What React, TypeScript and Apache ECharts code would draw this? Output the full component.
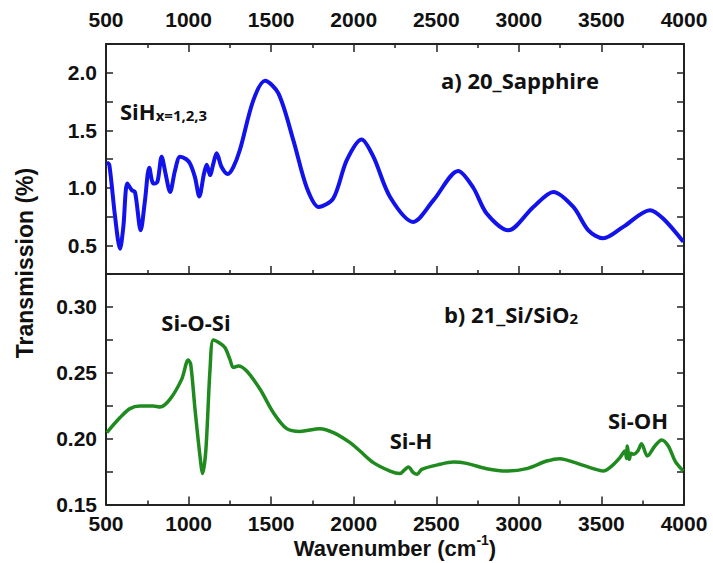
import React, { useEffect, useRef } from "react";
import * as echarts from "echarts";

const xTicks = [500, 1000, 1500, 2000, 2500, 3000, 3500, 4000];

const sapphireX = [505, 520, 555, 585, 605, 629, 656, 676, 710, 736, 762, 787, 811, 837, 861, 888, 918, 948, 984, 1009, 1039, 1065, 1093, 1110, 1130, 1150, 1170, 1200, 1237, 1271, 1311, 1392, 1463, 1544, 1635, 1716, 1788, 1876, 1958, 2048, 2119, 2220, 2361, 2482, 2633, 2724, 2805, 2936, 3088, 3209, 3330, 3421, 3511, 3632, 3794, 3875, 3996];
const sapphireY = [1.22, 1.2, 0.747, 0.47, 0.66, 1.036, 0.98, 0.96, 0.63, 0.89, 1.175, 1.036, 1.05, 1.27, 1.12, 0.964, 1.15, 1.27, 1.25, 1.21, 1.09, 0.925, 1.12, 1.2, 1.11, 1.21, 1.3, 1.18, 1.12, 1.18, 1.33, 1.76, 1.93, 1.82, 1.41, 1.0, 0.833, 0.906, 1.24, 1.42, 1.27, 0.92, 0.703, 0.89, 1.146, 1.0, 0.776, 0.63, 0.833, 0.964, 0.833, 0.63, 0.56, 0.66, 0.805, 0.73, 0.53];

const siX = [505, 585, 645, 706, 786, 827, 888, 958, 998, 1013, 1039, 1069, 1085, 1105, 1130, 1150, 1190, 1221, 1251, 1271, 1301, 1352, 1433, 1513, 1594, 1675, 1796, 1877, 1978, 2038, 2119, 2220, 2280, 2311, 2331, 2361, 2385, 2412, 2522, 2603, 2684, 2805, 2926, 3047, 3169, 3249, 3330, 3451, 3511, 3562, 3612, 3642, 3652, 3657, 3669, 3680, 3693, 3720, 3743, 3778, 3824, 3865, 3905, 3946, 3996];
const siY = [0.2046, 0.216, 0.2228, 0.2248, 0.2248, 0.224, 0.23, 0.245, 0.2597, 0.2565, 0.2223, 0.1868, 0.1736, 0.1919, 0.2527, 0.2749, 0.2724, 0.269, 0.26, 0.254, 0.2552, 0.2514, 0.2375, 0.2198, 0.2076, 0.2055, 0.2076, 0.2046, 0.197, 0.1906, 0.1818, 0.1754, 0.1736, 0.1767, 0.1784, 0.1742, 0.173, 0.1767, 0.1805, 0.1822, 0.1812, 0.1772, 0.1754, 0.1772, 0.183, 0.1848, 0.1822, 0.1772, 0.1754, 0.1792, 0.1856, 0.1906, 0.185, 0.1944, 0.1843, 0.189, 0.1881, 0.1906, 0.1962, 0.1868, 0.1944, 0.199, 0.1944, 0.183, 0.1754];

const AX = "#222";
const TICKFONT = { fontSize: 21, fontWeight: "bold", fontFamily: "Liberation Sans", color: "#111" };
const ANNOT = "Open Sans";

function multipleOf(v: number, step: number) {
  const r = v / step;
  return Math.abs(r - Math.round(r)) < 1e-6;
}

export default function App() {
  const ref = useRef<HTMLDivElement>(null);
  useEffect(() => {
    if (!ref.current) return;
    const chart = echarts.init(ref.current, undefined, { renderer: "svg" });
    const xBase = (gridIndex: number, position: string, showLabel: boolean, margin: number, showTick = true) => ({
      type: "value",
      gridIndex,
      position,
      min: xTicks[0],
      max: xTicks[xTicks.length - 1],
      interval: 500,
      axisLine: { show: true, onZero: false, lineStyle: { color: AX, width: 2 } },
      axisTick: { show: showTick, inside: true, length: 8, lineStyle: { color: AX, width: 1.5 } },
      minorTick: { show: showTick, splitNumber: 2, length: 4, lineStyle: { color: AX, width: 1.5 } },
      axisLabel: { show: showLabel, margin, ...TICKFONT, formatter: (v: number) => String(v) },
      splitLine: { show: false },
    });
    const yBase = (gridIndex: number, position: string, min: number, max: number, interval: number, labelStep: number, digits: number, showLabel: boolean) => ({
      type: "value",
      gridIndex,
      position,
      min,
      max,
      interval,
      axisLine: { show: true, onZero: false, lineStyle: { color: AX, width: 2 } },
      axisTick: { show: true, inside: true, length: 7, lineStyle: { color: AX, width: 1.5 } },
      axisLabel: {
        show: showLabel,
        margin: 9,
        ...TICKFONT,
        formatter: (v: number) => (multipleOf(v, labelStep) ? v.toFixed(digits) : ""),
      },
      splitLine: { show: false },
    });
    chart.setOption({
      animation: false,
      grid: [
        { left: 106, top: 44, width: 578, height: 230 },
        { left: 106, top: 274, width: 578, height: 230.5 },
      ],
      xAxis: [
        xBase(0, "top", true, 14),
        xBase(0, "bottom", false, 8),
        xBase(1, "bottom", true, 8),
        xBase(1, "top", false, 8, false),
      ],
      yAxis: [
        yBase(0, "left", 0.25, 2.25, 0.25, 0.5, 1, true),
        yBase(0, "right", 0.25, 2.25, 0.25, 0.5, 1, false),
        yBase(1, "left", 0.15, 0.325, 0.025, 0.05, 2, true),
        yBase(1, "right", 0.15, 0.325, 0.025, 0.05, 2, false),
      ],
      series: [
        {
          type: "line",
          xAxisIndex: 0,
          yAxisIndex: 0,
          data: sapphireX.map((x, i) => [x, sapphireY[i]]),
          showSymbol: false,
          smooth: 0.3,
          lineStyle: { color: "#1212ea", width: 4 },
        },
        {
          type: "line",
          xAxisIndex: 2,
          yAxisIndex: 2,
          data: siX.map((x, i) => [x, siY[i]]),
          showSymbol: false,
          smooth: 0.3,
          lineStyle: { color: "#1f8b1f", width: 3.5 },
        },
      ],
      graphic: [
        {
          type: "text",
          x: 25,
          y: 263,
          rotation: Math.PI / 2,
          style: { text: "Transmission (%)", fontSize: 23, fontWeight: "bold", fontFamily: "Liberation Sans", fill: "#111", align: "center", verticalAlign: "middle" },
        },
        {
          type: "text",
          x: 395,
          y: 546,
          style: {
            text: "{a|Wavenumber (cm}{s|-1}{a|)}",
            align: "center",
            verticalAlign: "middle",
            rich: {
              a: { fontSize: 22, fontWeight: "bold", fontFamily: "Liberation Sans", fill: "#111", lineHeight: 26, verticalAlign: "bottom" },
              s: { fontSize: 14, fontWeight: "bold", fontFamily: "Liberation Sans", fill: "#111", lineHeight: 26, verticalAlign: "top", padding: [0, 0, 8, 0] },
            },
          },
        },
        {
          type: "text",
          x: 520,
          y: 80,
          style: { text: "a) 20_Sapphire", fontSize: 22, fontWeight: "bold", fontFamily: ANNOT, fill: "#111", align: "center", verticalAlign: "middle" },
        },
        {
          type: "text",
          x: 120,
          y: 109,
          style: {
            text: "{a|SiH}{b|x=1,2,3}",
            align: "left",
            verticalAlign: "middle",
            rich: {
              a: { fontSize: 22, fontWeight: "bold", fontFamily: ANNOT, fill: "#111", lineHeight: 26, verticalAlign: "bottom" },
              b: { fontSize: 15, fontWeight: "bold", fontFamily: ANNOT, fill: "#111", lineHeight: 12, verticalAlign: "bottom" },
            },
          },
        },
        {
          type: "text",
          x: 196,
          y: 322,
          style: { text: "Si-O-Si", fontSize: 22, fontWeight: "bold", fontFamily: ANNOT, fill: "#111", align: "center", verticalAlign: "middle" },
        },
        {
          type: "text",
          x: 511,
          y: 312,
          style: {
            text: "{a|b) 21_Si/SiO}{b|2}",
            align: "center",
            verticalAlign: "middle",
            rich: {
              a: { fontSize: 22, fontWeight: "bold", fontFamily: ANNOT, fill: "#111", lineHeight: 26, verticalAlign: "bottom" },
              b: { fontSize: 15, fontWeight: "bold", fontFamily: ANNOT, fill: "#111", lineHeight: 12, verticalAlign: "bottom" },
            },
          },
        },
        {
          type: "text",
          x: 411,
          y: 440,
          style: { text: "Si-H", fontSize: 22, fontWeight: "bold", fontFamily: ANNOT, fill: "#111", align: "center", verticalAlign: "middle" },
        },
        {
          type: "text",
          x: 638,
          y: 420,
          style: { text: "Si-OH", fontSize: 22, fontWeight: "bold", fontFamily: ANNOT, fill: "#111", align: "center", verticalAlign: "middle" },
        },
      ],
    });
    return () => chart.dispose();
  }, []);
  return <div ref={ref} style={{ position: "absolute", left: 0, top: 0, width: 713, height: 563, background: "#fff" }} />;
}
